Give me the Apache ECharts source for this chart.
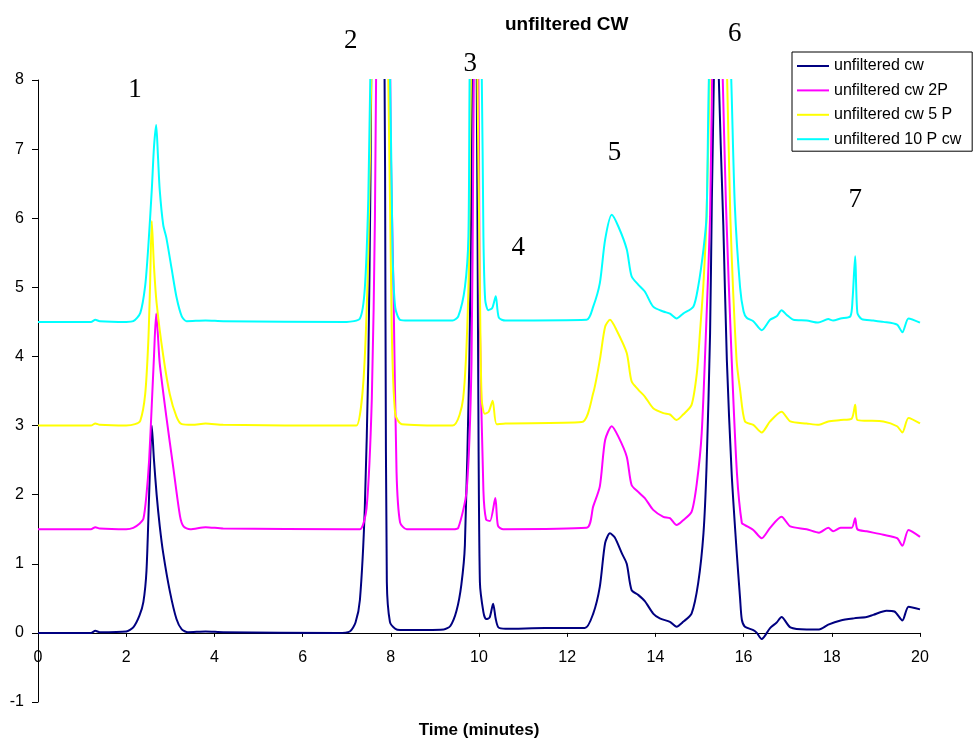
<!DOCTYPE html>
<html>
<head>
<meta charset="utf-8">
<title>unfiltered CW</title>
<script src="https://cdn.jsdelivr.net/npm/echarts@6/dist/echarts.min.js"></script>
<style>
html, body { margin: 0; padding: 0; background: #fff; }
#main { width: 973px; height: 742px; }
</style>
</head>
<body>
<div id="main"></div>
<script>
// series names (legend)
var seriesNames = ['unfiltered cw', 'unfiltered cw 2P', 'unfiltered cw 5 P', 'unfiltered 10 P cw'];

// [time (min), signal]; peaks 2, 3 and 6 are off scale (cut at 8)
var cw = [[0,0],[1.2,0],[1.3,0.03],[1.4,0.01],[2.0,0.02],[2.16,0.08],[2.3,0.25],[2.39,0.45],[2.46,0.9],[2.52,2.0],[2.58,3.0],[2.63,2.5],[2.69,2.0],[2.76,1.55],[2.84,1.15],[2.99,0.6],[3.14,0.2],[3.26,0.05],[3.4,0.01],[3.8,0.02],[4.2,0.01],[6.8,0],[7.07,0.02],[7.2,0.15],[7.3,0.48],[7.41,1.8],[7.49,3.9],[7.54,6.6],[7.6,11],[7.72,13],[7.85,9],[7.88,4.5],[7.91,0.74],[7.98,0.16],[8.1,0.06],[8.21,0.04],[9.2,0.05],[9.35,0.1],[9.49,0.32],[9.6,0.7],[9.68,1.27],[9.78,3.9],[9.82,6.0],[9.86,10],[9.89,11],[9.94,9],[9.98,4.0],[10.02,0.74],[10.1,0.3],[10.16,0.2],[10.24,0.22],[10.32,0.42],[10.38,0.2],[10.44,0.08],[10.6,0.06],[11.5,0.07],[12.4,0.07],[12.59,0.28],[12.74,0.67],[12.86,1.3],[12.97,1.44],[13.08,1.38],[13.24,1.15],[13.35,1.0],[13.46,0.62],[13.61,0.55],[13.76,0.46],[13.95,0.28],[14.1,0.21],[14.33,0.16],[14.48,0.09],[14.63,0.16],[14.82,0.28],[14.97,0.72],[15.09,1.44],[15.16,2.41],[15.24,4.34],[15.28,6.27],[15.33,8.2],[15.38,11],[15.43,8.2],[15.54,5.9],[15.62,3.95],[15.73,2.3],[15.84,1.2],[15.92,0.5],[15.96,0.19],[16.03,0.09],[16.22,0.04],[16.3,0],[16.41,-0.09],[16.6,0.07],[16.75,0.15],[16.86,0.23],[17.06,0.08],[17.43,0.05],[17.71,0.05],[17.92,0.12],[18.2,0.18],[18.5,0.21],[18.79,0.23],[18.94,0.26],[19.24,0.32],[19.42,0.31],[19.6,0.18],[19.74,0.38],[20,0.34]];

var cw2P = [[0,1.5],[1.2,1.5],[1.3,1.53],[1.4,1.51],[2.0,1.5],[2.16,1.52],[2.3,1.58],[2.39,1.65],[2.46,2.0],[2.52,2.5],[2.58,3.3],[2.63,4.0],[2.68,4.62],[2.72,4.3],[2.76,3.9],[2.91,3.13],[3.07,2.38],[3.22,1.69],[3.3,1.54],[3.45,1.5],[3.8,1.53],[4.2,1.51],[7.0,1.5],[7.3,1.5],[7.45,1.8],[7.57,3.4],[7.64,6.0],[7.7,10],[7.85,13],[7.96,10],[8.0,7],[8.06,5.0],[8.13,2.33],[8.21,1.6],[8.36,1.5],[9.4,1.5],[9.53,1.52],[9.72,2.06],[9.83,3.9],[9.87,7],[9.93,11],[10.0,7],[10.02,4.44],[10.1,2.06],[10.16,1.64],[10.25,1.62],[10.37,1.95],[10.43,1.55],[10.55,1.5],[12.44,1.52],[12.59,1.83],[12.74,2.12],[12.86,2.79],[13.01,2.99],[13.16,2.84],[13.35,2.55],[13.46,2.14],[13.61,2.04],[13.76,1.95],[13.95,1.78],[14.18,1.68],[14.33,1.66],[14.48,1.56],[14.63,1.63],[14.82,1.75],[14.94,2.17],[15.05,2.89],[15.16,4.58],[15.24,6.03],[15.29,8.2],[15.4,11],[15.52,8.2],[15.6,6.2],[15.73,3.95],[15.85,2.3],[15.96,1.59],[16.03,1.56],[16.22,1.49],[16.41,1.37],[16.6,1.52],[16.86,1.68],[17.06,1.54],[17.43,1.5],[17.71,1.45],[17.92,1.52],[18.03,1.47],[18.2,1.52],[18.45,1.52],[18.53,1.66],[18.58,1.5],[18.79,1.47],[19.17,1.42],[19.48,1.37],[19.6,1.26],[19.74,1.49],[20,1.39]];

var cw5P = [[0,3.0],[1.2,3.0],[1.3,3.03],[1.4,3.01],[2.0,3.0],[2.2,3.02],[2.32,3.07],[2.43,3.45],[2.5,4.2],[2.54,5.0],[2.58,5.96],[2.63,5.3],[2.69,4.77],[2.84,4.01],[2.99,3.45],[3.14,3.13],[3.26,3.02],[3.5,3.01],[3.8,3.03],[4.2,3.01],[7.0,3.0],[7.22,3.0],[7.38,3.65],[7.49,5.5],[7.56,8.2],[7.75,13],[7.94,8.2],[8.02,4.44],[8.1,3.17],[8.25,3.02],[9.4,3.0],[9.64,3.39],[9.76,4.98],[9.8,7.2],[9.9,11],[9.98,7.2],[10.02,5.0],[10.06,3.39],[10.13,3.17],[10.22,3.2],[10.31,3.36],[10.4,3.02],[10.6,3.03],[12.33,3.05],[12.59,3.47],[12.74,3.95],[12.86,4.43],[12.97,4.53],[13.12,4.38],[13.35,4.05],[13.46,3.64],[13.61,3.52],[13.76,3.42],[13.95,3.25],[14.18,3.18],[14.33,3.16],[14.48,3.08],[14.63,3.16],[14.82,3.3],[14.94,3.76],[15.01,4.34],[15.09,5.06],[15.16,6.03],[15.24,8.2],[15.43,12],[15.62,8.2],[15.7,6.0],[15.84,3.95],[15.92,3.52],[16.03,3.06],[16.22,3.01],[16.41,2.9],[16.6,3.06],[16.86,3.2],[17.06,3.06],[17.43,3.03],[17.71,3.01],[17.92,3.06],[18.2,3.08],[18.45,3.1],[18.53,3.3],[18.58,3.08],[18.79,3.07],[19.17,3.06],[19.48,2.99],[19.6,2.9],[19.74,3.11],[20,3.03]];

var cw10P = [[0,4.5],[1.2,4.5],[1.3,4.53],[1.4,4.51],[2.0,4.5],[2.16,4.51],[2.32,4.63],[2.43,5.02],[2.5,5.58],[2.58,6.41],[2.63,7.03],[2.68,7.35],[2.72,6.9],[2.76,6.41],[2.84,5.9],[2.91,5.72],[3.03,5.27],[3.14,4.86],[3.26,4.58],[3.37,4.51],[3.8,4.52],[4.2,4.51],[7.0,4.5],[7.3,4.55],[7.41,4.98],[7.49,6.29],[7.54,8.2],[7.75,13],[7.98,8.2],[8.04,5.5],[8.1,4.71],[8.21,4.53],[8.4,4.52],[9.4,4.52],[9.53,4.58],[9.68,5.0],[9.76,5.74],[9.79,8.2],[9.9,12],[10.06,8.2],[10.1,5.74],[10.14,4.82],[10.21,4.67],[10.3,4.7],[10.38,4.87],[10.45,4.56],[10.6,4.52],[12.44,4.53],[12.59,4.72],[12.74,5.06],[12.86,5.69],[13.01,6.05],[13.16,5.88],[13.35,5.55],[13.46,5.16],[13.61,5.04],[13.76,4.94],[13.95,4.72],[14.18,4.65],[14.33,4.62],[14.48,4.55],[14.63,4.62],[14.86,4.72],[14.97,5.01],[15.09,5.55],[15.16,6.03],[15.22,8.2],[15.46,12],[15.71,8.2],[15.8,6.2],[15.92,5.0],[16.0,4.65],[16.07,4.56],[16.22,4.51],[16.41,4.38],[16.6,4.53],[16.75,4.58],[16.86,4.67],[16.98,4.6],[17.13,4.53],[17.43,4.52],[17.69,4.49],[17.92,4.54],[18.03,4.52],[18.2,4.55],[18.42,4.58],[18.47,4.82],[18.53,5.45],[18.58,4.63],[18.68,4.54],[18.94,4.52],[19.17,4.5],[19.48,4.46],[19.6,4.35],[19.74,4.55],[20,4.49]];

// peak numbers: [label, time, signal]
var peakLabels = [['1',2.20,7.86],['2',7.09,8.57],['3',9.80,8.24],['4',10.89,5.57],['5',13.07,6.95],['6',15.80,8.67],['7',18.53,6.27]];

var colors = ['#000080', '#FF00FF', '#FFFF00', '#00FFFF'];
var allData = [cw, cw2P, cw5P, cw10P];
var yMin = -1, yMax = 8;

var myChart = echarts.init(document.getElementById('main'));
var font = "'Liberation Sans', Arial, sans-serif";
var gridTop = 80, gridBottom = 40;
// the time axis sits on the zero line: lift it by one unit of the signal axis
var zeroOffset = -(742 - gridTop - gridBottom) * (0 - yMin) / (yMax - yMin);

var series = [];
for (var i = 0; i < allData.length; i++) {
    series.push({
        name: seriesNames[i],
        type: 'line',
        data: allData[i],
        showSymbol: false,
        smooth: 0.25,
        clip: true,
        lineStyle: { color: colors[i], width: 2 },
        itemStyle: { color: colors[i] }
    });
}

var option = {
    animation: false,
    backgroundColor: '#fff',
    title: {
        text: 'unfiltered CW',
        left: 500,
        top: 10,
        textStyle: { fontFamily: font, fontWeight: 'bold', fontSize: 19, color: '#000' }
    },
    legend: {
        orient: 'vertical',
        left: 792,
        top: 52,
        data: seriesNames,
        icon: 'rect',
        itemWidth: 32,
        itemHeight: 2,
        itemGap: 8.4,
        padding: [6, 11, 4, 5],
        borderColor: '#000',
        borderWidth: 1,
        backgroundColor: '#fff',
        textStyle: { fontFamily: font, fontSize: 16, color: '#000' }
    },
    grid: { left: 38, right: 53, top: gridTop, bottom: gridBottom, outerBoundsMode: 'none' },
    xAxis: {
        type: 'value',
        min: 0,
        max: 20,
        interval: 2,
        offset: zeroOffset,
        name: 'Time (minutes)',
        nameLocation: 'middle',
        nameGap: 89,
        nameTextStyle: { fontFamily: font, fontWeight: 'bold', fontSize: 17, color: '#000' },
        axisLine: { onZero: false, lineStyle: { color: '#000', width: 1 } },
        axisTick: { show: true, inside: false, length: 4, lineStyle: { color: '#000' } },
        axisLabel: { fontFamily: font, fontSize: 16, color: '#000', margin: 17, showMinLabel: true, showMaxLabel: true },
        splitLine: { show: false }
    },
    yAxis: {
        type: 'value',
        min: yMin,
        max: yMax,
        interval: 1,
        axisLine: { show: true, onZero: false, lineStyle: { color: '#000', width: 1 } },
        axisTick: { show: true, inside: false, length: 6, lineStyle: { color: '#000' } },
        axisLabel: { fontFamily: font, fontSize: 16, color: '#000', margin: 14 },
        splitLine: { show: false }
    },
    series: series
};
myChart.setOption(option);

// peak numbers placed through the axes
var graphics = [];
for (var k = 0; k < peakLabels.length; k++) {
    var p = myChart.convertToPixel({ gridIndex: 0 }, [peakLabels[k][1], peakLabels[k][2]]);
    graphics.push({
        type: 'text',
        x: p[0],
        y: p[1],
        z: 100,
        style: {
            text: peakLabels[k][0],
            fontFamily: "'Liberation Serif', 'Times New Roman', serif",
            fontSize: 27,
            fill: '#000',
            align: 'center',
            verticalAlign: 'middle'
        }
    });
}
myChart.setOption({ graphic: graphics });
</script>
</body>
</html>
